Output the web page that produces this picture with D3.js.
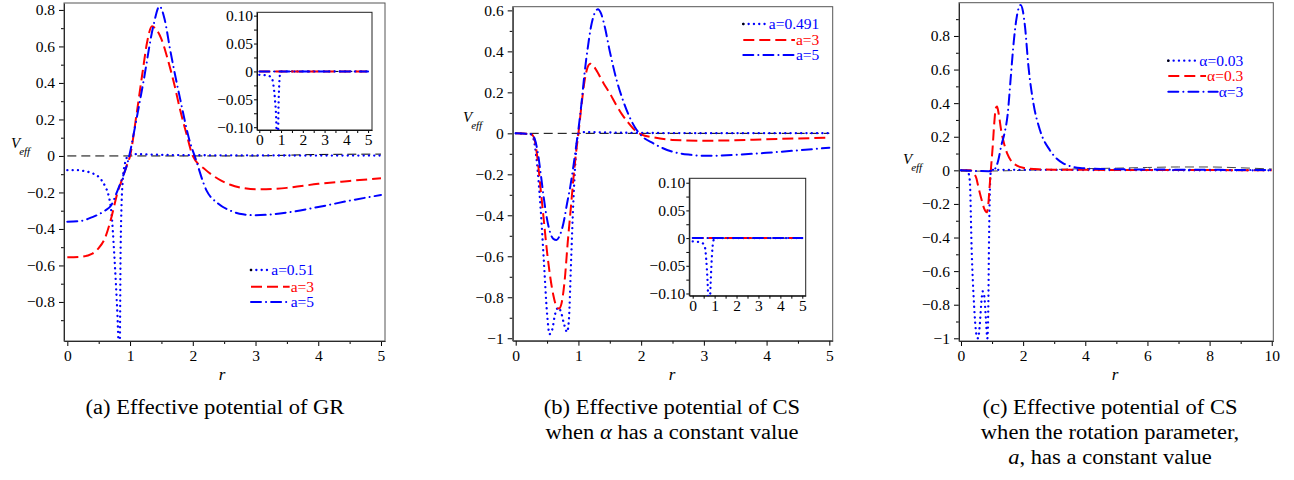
<!DOCTYPE html>
<html>
<head>
<meta charset="utf-8">
<script src="https://cdn.jsdelivr.net/npm/d3@7/dist/d3.min.js"></script>
<style>
body { margin: 0; background: #fff; }
svg text { font-family: "Liberation Serif", "Times New Roman", serif; }
</style>
</head>
<body>
<div id="chart"></div>
<script>
// ---- data ----
// (a) GR
var grA051 = [[0,-0.078],[0.15,-0.078],[0.3,-0.085],[0.4,-0.095],[0.5,-0.115],[0.6,-0.165],[0.66,-0.22],[0.7,-0.3],[0.75,-0.55],[0.8,-0.88],[0.825,-1.08],[0.835,-1.08],[0.85,-0.5],[0.88,-0.15],[0.92,-0.04],[0.97,0.0],[1.05,0.01],[1.2,0.009],[1.5,0.006],[2,0.004],[3,0.003],[4,0.002],[5,0.002]];
var grA3 = [[0,-0.555],[0.2,-0.553],[0.4,-0.535],[0.5,-0.505],[0.6,-0.45],[0.7,-0.34],[0.75,-0.27],[0.8,-0.2],[0.85,-0.15],[0.9,-0.1],[0.95,-0.05],[1.0,0.0],[1.1,0.22],[1.2,0.46],[1.27,0.62],[1.35,0.71],[1.4,0.70],[1.5,0.64],[1.6,0.53],[1.7,0.4],[1.8,0.25],[1.9,0.12],[2.0,0.0],[2.2,-0.075],[2.4,-0.125],[2.6,-0.158],[2.8,-0.176],[3.0,-0.183],[3.5,-0.175],[4.0,-0.153],[4.5,-0.137],[5,-0.122]];
var grA5 = [[0,-0.36],[0.2,-0.357],[0.4,-0.335],[0.5,-0.32],[0.6,-0.3],[0.7,-0.27],[0.8,-0.19],[0.9,-0.1],[0.95,-0.05],[1.0,0.02],[1.06,0.125],[1.21,0.4],[1.37,0.71],[1.47,0.82],[1.55,0.75],[1.64,0.58],[1.8,0.31],[1.96,0.07],[2.03,0.0],[2.22,-0.19],[2.4,-0.26],[2.6,-0.3],[2.8,-0.32],[3.0,-0.325],[3.5,-0.31],[4,-0.28],[4.5,-0.245],[5,-0.214]];
var grZero = [[0,0],[3,0],[3.5,0.004],[4,0.008],[5,0.01]];
// (a) inset
var grInDot = [[0,-0.006],[0.3,-0.007],[0.55,-0.01],[0.65,-0.025],[0.72,-0.05],[0.78,-0.09],[0.8,-0.12],[0.86,-0.12],[0.88,-0.07],[0.92,-0.02],[0.96,-0.003],[1.0,0],[5,0]];
var grInFlat = [[0,0],[5,0]];

// (b) CS, alpha constant
var csB0491 = [[0,0],[0.25,-0.005],[0.3,-0.05],[0.35,-0.18],[0.4,-0.38],[0.45,-0.63],[0.5,-0.88],[0.54,-0.98],[0.58,-0.96],[0.63,-0.88],[0.68,-0.85],[0.72,-0.87],[0.77,-0.93],[0.82,-0.97],[0.85,-0.9],[0.88,-0.65],[0.91,-0.4],[0.94,-0.2],[0.97,-0.06],[1.0,0],[1.1,0.006],[1.5,0.004],[2,0.002],[3,0.001],[5,0.001]];
var csB3 = [[0,0],[0.25,-0.005],[0.3,-0.03],[0.35,-0.13],[0.4,-0.28],[0.45,-0.43],[0.5,-0.58],[0.55,-0.7],[0.6,-0.79],[0.65,-0.845],[0.69,-0.855],[0.73,-0.83],[0.78,-0.72],[0.83,-0.53],[0.88,-0.36],[0.92,-0.22],[0.96,-0.1],[1.0,0.0],[1.05,0.14],[1.1,0.26],[1.15,0.325],[1.19,0.34],[1.25,0.325],[1.3,0.3],[1.4,0.245],[1.5,0.195],[1.6,0.14],[1.7,0.09],[1.8,0.05],[1.9,0.015],[2.0,-0.005],[2.2,-0.02],[2.5,-0.032],[3,-0.036],[3.5,-0.034],[4,-0.029],[4.5,-0.025],[5,-0.021]];
var csB5 = [[0,0],[0.25,-0.005],[0.3,-0.025],[0.35,-0.09],[0.4,-0.2],[0.45,-0.32],[0.5,-0.42],[0.55,-0.485],[0.6,-0.515],[0.65,-0.52],[0.7,-0.5],[0.76,-0.44],[0.82,-0.34],[0.87,-0.26],[0.92,-0.16],[0.96,-0.07],[1.0,0.02],[1.05,0.15],[1.1,0.3],[1.15,0.42],[1.2,0.52],[1.25,0.58],[1.31,0.605],[1.36,0.585],[1.42,0.52],[1.5,0.4],[1.6,0.27],[1.7,0.17],[1.8,0.09],[1.9,0.03],[2.0,-0.01],[2.2,-0.05],[2.5,-0.09],[2.8,-0.105],[3,-0.11],[3.5,-0.105],[4,-0.095],[4.5,-0.083],[5,-0.07]];
var csBZero = [[0,0],[5,0]];
// (b) inset
var csBInDot = [[0,-0.006],[0.4,-0.008],[0.55,-0.015],[0.62,-0.04],[0.68,-0.08],[0.72,-0.12],[0.78,-0.12],[0.82,-0.08],[0.88,-0.03],[0.93,-0.008],[1.0,0],[5,0]];
var csBInFlat = [[0,0],[5,0]];

// (c) CS, a constant
var csC003 = [[0,0],[0.2,0],[0.25,-0.02],[0.29,-0.08],[0.34,-0.45],[0.42,-0.8],[0.5,-0.98],[0.55,-1.0],[0.6,-0.93],[0.65,-0.8],[0.7,-0.72],[0.75,-0.75],[0.8,-0.88],[0.85,-1.0],[0.88,-0.8],[0.9,-0.45],[0.93,-0.12],[0.96,-0.01],[1.0,0.003],[2,0.003],[4,0.002],[6,0.001],[10,0.0]];
var csC03 = [[0,0],[0.3,0],[0.4,-0.015],[0.5,-0.05],[0.56,-0.1],[0.67,-0.18],[0.75,-0.23],[0.83,-0.25],[0.88,-0.2],[0.92,-0.1],[0.96,0.0],[1.02,0.14],[1.07,0.28],[1.12,0.37],[1.16,0.38],[1.21,0.34],[1.3,0.23],[1.4,0.15],[1.5,0.095],[1.6,0.06],[1.8,0.028],[2,0.015],[2.5,0.006],[3,0.004],[4,0.003],[6,0.002],[10,0.001]];
var csC3 = [[0,0],[0.5,-0.004],[0.9,-0.005],[1.0,0.0],[1.1,0.01],[1.2,0.06],[1.3,0.15],[1.4,0.22],[1.5,0.33],[1.6,0.55],[1.7,0.77],[1.8,0.92],[1.92,0.985],[1.99,0.95],[2.06,0.855],[2.17,0.62],[2.33,0.4],[2.54,0.24],[2.86,0.12],[3.29,0.042],[3.83,0.014],[4.5,0.008],[6,0.005],[8,0.003],[10,0.002]];
var csCZero = [[0,-0.005],[1,-0.004],[2,0.0],[3,0.005],[4,0.01],[5,0.013],[6,0.017],[7,0.02],[8,0.02],[9,0.015],[10,0.008]];

// ticks
var yTicksA = [-0.8,-0.6,-0.4,-0.2,0,0.2,0.4,0.6,0.8];
var yTicksB = [-1,-0.8,-0.6,-0.4,-0.2,0,0.2,0.4,0.6];
var yTicksC = [-1,-0.8,-0.6,-0.4,-0.2,0,0.2,0.4,0.6,0.8];
var xTicks5 = [0,1,2,3,4,5];
var xTicks10 = [0,2,4,6,8,10];
var yTicksInset = [-0.1,-0.05,0,0.05,0.1];

var legendA = ["a=0.51","a=3","a=5"];
var legendB = ["a=0.491","a=3","a=5"];
var legendC = ["\u03b1=0.03","\u03b1=0.3","\u03b1=3"];

var captionA = ["(a) Effective potential of GR"];
var captionB = ["(b) Effective potential of CS", "when \u03b1 has a constant value"];
var captionC = ["(c) Effective potential of CS", "when the rotation parameter,", "a, has a constant value"];

var SERIF = "'Liberation Serif', 'Times New Roman', serif";

// ---- drawing ----
var svg = d3.select("#chart").append("svg")
	.attr("width", 1294)
	.attr("height", 480)
	.attr("font-family", SERIF);

var STY = {
	dot: {color: "#0000ff", dash: "0.1 5.2", cap: "round", width: 2.3},
	dash: {color: "#ff0000", dash: "11 5", cap: "butt", width: 2},
	dashdot: {color: "#0000ff", dash: "10 5 0.1 5", cap: "round", width: 2},
	zero: {color: "#000000", dash: "9 5", cap: "butt", width: 1}
};

function fmtMain(v) {
	if (v == 0) return "0";
	return (v < 0 ? "\u2212" : "") + Math.abs(+v.toFixed(2));
}
function fmtInset(v) {
	if (v == 0) return "0";
	return (v < 0 ? "\u2212" : "") + Math.abs(v).toFixed(2);
}

var clipId = 0;
function drawPlot(p) {
	var x = d3.scaleLinear().domain(p.xDom).range([p.left, p.right]);
	var y = d3.scaleLinear().domain(p.yDom).range([p.bottom, p.top]);
	var g = svg.append("g");

	g.append("rect")
		.attr("x", p.left).attr("y", p.top)
		.attr("width", p.right - p.left).attr("height", p.bottom - p.top)
		.attr("fill", "#fff");

	// axes
	var fmt = p.inset ? fmtInset : fmtMain;
	g.append("g").attr("transform", "translate(" + p.left + ",0)")
		.call(d3.axisLeft(y).tickValues(p.yTicks).tickFormat(fmt)
			.tickSize(p.inset ? 3 : 5).tickSizeOuter(0).tickPadding(p.inset ? 1 : 4));
	g.append("g").attr("transform", "translate(" + p.left + ",0)")
		.call(d3.axisLeft(y).tickValues(p.yMinor).tickFormat("").tickSize(3).tickSizeOuter(0))
		.select(".domain").remove();
	g.append("g").attr("transform", "translate(0," + p.bottom + ")")
		.call(d3.axisBottom(x).tickValues(p.xTicks).tickFormat(d3.format("d"))
			.tickSize(p.inset ? 3 : 5).tickSizeOuter(0).tickPadding(p.inset ? 1 : 4));
	g.append("g").attr("transform", "translate(0," + p.bottom + ")")
		.call(d3.axisBottom(x).tickValues(p.xMinor).tickFormat("").tickSize(3).tickSizeOuter(0))
		.select(".domain").remove();
	g.selectAll("g").attr("font-family", SERIF);
	g.selectAll(".tick text").attr("font-size", 15.5).attr("fill", "#000");
	g.selectAll(".domain").attr("stroke", "#000");

	// frame
	g.append("rect")
		.attr("x", p.left).attr("y", p.top)
		.attr("width", p.right - p.left).attr("height", p.bottom - p.top)
		.attr("fill", "none")
		.attr("stroke", p.inset ? "#222" : "#555")
		.attr("stroke-width", 1);

	clipId++;
	svg.append("clipPath").attr("id", "clip" + clipId)
		.append("rect")
		.attr("x", p.left).attr("y", p.top)
		.attr("width", p.right - p.left).attr("height", p.bottom - p.top);

	var line = d3.line()
		.x(function(d) { return x(d[0]); })
		.y(function(d) { return y(d[1]); })
		.curve(d3.curveMonotoneX);

	var cg = g.append("g").attr("clip-path", "url(#clip" + clipId + ")");
	p.series.forEach(function(s) {
		var st = STY[s.style];
		cg.append("path")
			.attr("d", line(s.data))
			.attr("fill", "none")
			.attr("stroke", s.color || st.color)
			.attr("stroke-width", st.width)
			.attr("stroke-dasharray", st.dash)
			.attr("stroke-linecap", st.cap);
	});
	return {x: x, y: y};
}

function drawLegend(lg) {
	var g = svg.append("g");
	lg.labels.forEach(function(lab, i) {
		var yy = lg.rows[i];
		var t = g.append("text")
			.attr("x", lg.right).attr("y", yy).attr("dy", "0.35em")
			.attr("text-anchor", "end")
			.attr("font-size", 15.5)
			.attr("fill", lg.colors[i])
			.text(lab);
		var w = t.node().getComputedTextLength();
		var st = STY[lg.styles[i]];
		g.append("line")
			.attr("x1", lg.x0).attr("x2", lg.right - w - 1)
			.attr("y1", yy).attr("y2", yy)
			.attr("stroke", st.color)
			.attr("stroke-width", st.width)
			.attr("stroke-dasharray", st.dash)
			.attr("stroke-linecap", st.cap);
		if (lg.styles[i] == "dot") {
			g.append("circle").attr("cx", lg.x0).attr("cy", yy).attr("r", 1.3).attr("fill", "#000");
		}
	});
}

function veff(x, yb) {
	var t = svg.append("text").attr("x", x).attr("y", yb)
		.attr("font-style", "italic").attr("font-size", 15);
	t.append("tspan").text("V");
	t.append("tspan").attr("dy", 7).attr("dx", -1).attr("font-size", 11).text("eff");
}
function rLabel(x, yb) {
	svg.append("text").attr("x", x).attr("y", yb)
		.attr("text-anchor", "middle")
		.attr("font-style", "italic").attr("font-size", 17)
		.text("r");
}
// captions: serif text, widened a little towards the LaTeX look
function caption(lines, cx) {
	lines.forEach(function(l, i) {
		var t = svg.append("text").attr("x", cx).attr("y", 414 + i * 25)
			.attr("text-anchor", "middle")
			.attr("font-size", 20.5);
		if (l.indexOf("\u03b1") >= 0) {
			var parts = l.split("\u03b1");
			t.append("tspan").text(parts[0]);
			t.append("tspan").attr("font-style", "italic").text("\u03b1");
			t.append("tspan").text(parts[1]);
		} else if (l.indexOf("a, ") == 0) {
			t.append("tspan").attr("font-style", "italic").text("a");
			t.append("tspan").text(l.slice(1));
		} else {
			t.text(l);
		}
		var w = t.node().getComputedTextLength();
		t.attr("textLength", w * 1.1).attr("lengthAdjust", "spacingAndGlyphs");
	});
}

// panel (a)
drawPlot({
	left: 64, right: 385, top: 3, bottom: 341,
	xDom: [-0.053, 5.064], yDom: [-1.014, 0.838],
	xTicks: xTicks5, xMinor: [0.5,1.5,2.5,3.5,4.5],
	yTicks: yTicksA, yMinor: [-0.9,-0.7,-0.5,-0.3,-0.1,0.1,0.3,0.5,0.7],
	series: [
		{data: grZero, style: "zero"},
		{data: grA051, style: "dot"},
		{data: grA3, style: "dash"},
		{data: grA5, style: "dashdot"}
	]
});
drawPlot({
	inset: true,
	left: 257, right: 372, top: 12.3, bottom: 130,
	xDom: [-0.106, 5.18], yDom: [-0.105, 0.106],
	xTicks: xTicks5, xMinor: [0.5,1.5,2.5,3.5,4.5],
	yTicks: yTicksInset, yMinor: [-0.075,-0.025,0.025,0.075],
	series: [
		{data: grInFlat, style: "zero"},
		{data: grInDot, style: "dot"},
		{data: grInFlat, style: "dash"},
		{data: grInFlat, style: "dashdot"}
	]
});
drawLegend({x0: 251, right: 314, rows: [270, 286.7, 302], labels: legendA,
	colors: ["#0000ff", "#ff0000", "#0000ff"], styles: ["dot", "dash", "dashdot"]});
veff(11, 148);
rLabel(222, 380);
caption(captionA, 215);

// panel (b)
drawPlot({
	left: 512.7, right: 832.7, top: 6.7, bottom: 340.7,
	xDom: [-0.048, 5.054], yDom: [-1.012, 0.618],
	xTicks: xTicks5, xMinor: [0.5,1.5,2.5,3.5,4.5],
	yTicks: yTicksB, yMinor: [-0.9,-0.7,-0.5,-0.3,-0.1,0.1,0.3,0.5],
	series: [
		{data: csBZero, style: "zero"},
		{data: csB0491, style: "dot"},
		{data: csB3, style: "dash"},
		{data: csB5, style: "dashdot"}
	]
});
drawPlot({
	inset: true,
	left: 689.3, right: 805.7, top: 178.3, bottom: 295.7,
	xDom: [-0.155, 5.155], yDom: [-0.104, 0.108],
	xTicks: xTicks5, xMinor: [0.5,1.5,2.5,3.5,4.5],
	yTicks: yTicksInset, yMinor: [-0.075,-0.025,0.025,0.075],
	series: [
		{data: csBInFlat, style: "zero"},
		{data: csBInDot, style: "dot"},
		{data: csBInFlat, style: "dash"},
		{data: csBInFlat, style: "dashdot"}
	]
});
drawLegend({x0: 743.3, right: 819.3, rows: [24, 40, 55], labels: legendB,
	colors: ["#0000ff", "#ff0000", "#0000ff"], styles: ["dot", "dash", "dashdot"]});
veff(463, 122);
rLabel(672, 380);
caption(captionB, 672);

// panel (c)
drawPlot({
	left: 959, right: 1273.3, top: 2.7, bottom: 341,
	xDom: [-0.064, 10.05], yDom: [-1.016, 0.998],
	xTicks: xTicks10, xMinor: [1,3,5,7,9],
	yTicks: yTicksC, yMinor: [-0.9,-0.7,-0.5,-0.3,-0.1,0.1,0.3,0.5,0.7,0.9],
	series: [
		{data: csCZero, style: "zero", color: "#444"},
		{data: csC003, style: "dot"},
		{data: csC03, style: "dash"},
		{data: csC3, style: "dashdot"}
	]
});
drawLegend({x0: 1168.3, right: 1243.3, rows: [60.7, 76, 91.7], labels: legendC,
	colors: ["#0000ff", "#ff0000", "#0000ff"], styles: ["dot", "dash", "dashdot"]});
veff(903, 164);
rLabel(1115, 380);
caption(captionC, 1110);
</script>
</body>
</html>
